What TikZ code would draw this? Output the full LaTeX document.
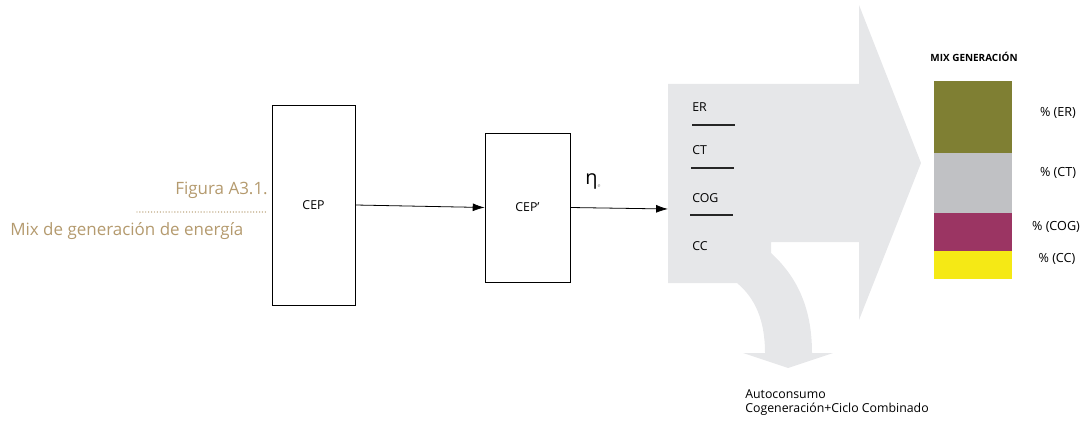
\documentclass[tikz,border=0pt]{standalone}
\usepackage{fontspec}
\setsansfont{Open Sans}
\usetikzlibrary{arrows.meta}
\definecolor{flowgray}{HTML}{E6E7E9}
\definecolor{captan}{HTML}{B49A6E}
\definecolor{mixolive}{HTML}{7F7F33}
\definecolor{mixgray}{HTML}{C0C1C4}
\definecolor{mixplum}{HTML}{9B3563}
\definecolor{mixyellow}{HTML}{F5E915}
\tikzset{
  x=0.0265cm, y=-0.0265cm,
  unitbox/.style={draw=black, line width=0.6pt, fill=white, inner sep=0pt, font=\sffamily\fontsize{9.3}{11}\selectfont},
  flowline/.style={line width=0.6pt, -{Latex[length=9pt, width=6pt]}},
  rowlabel/.style={anchor=west, inner sep=0pt, font=\sffamily\fontsize{9.3}{11}\selectfont},
  rowrule/.style={line width=0.9pt, draw=black!85},
  pctlabel/.style={inner sep=0pt, font=\sffamily\fontsize{9.5}{11}\selectfont},
  caption/.style={text=captan, inner sep=0pt, font=\sffamily\fontsize{12.8}{15}\selectfont},
}

\begin{document}
\begin{tikzpicture}
\useasboundingbox (0,0) rectangle (1081,423);
% caption
\node[caption, anchor=east] (figno) at (268,190) {Figura A3.1.};
\draw[captan, line width=1.1pt, line cap=round, dash pattern=on 0pt off 2.2pt] (137,212) -- (268,212);
\node[caption, anchor=west] (figtitle) at (10,231) {Mix de generación de energía};
% big flow arrow
\fill[flowgray] (668,84) -- (859,84) -- (859,5) -- (921,163) -- (859,320) -- (859,242)
  -- (771,242) -- (771,253) .. controls (795,275) and (812,305) .. (812,353)
  -- (833,353) -- (788,368) -- (743,353) -- (765,353)
  .. controls (765,320) and (755,298) .. (737,283) -- (668,283) -- cycle;
\coordinate (flowin) at (668,209);
% units
\node[unitbox, minimum width=2.2cm, minimum height=5.3cm] (cep) at (313.5,205) {CEP};
\node[unitbox, minimum width=2.25cm, minimum height=3.95cm] (cepp) at (527.5,207.5) {CEP’};
\draw[flowline] (cep.east) -- (cepp.west);
\draw[flowline] (cepp.east) -- (flowin);
\node[inner sep=0pt, font=\sffamily\fontsize{15}{17}\selectfont] (eta) at (593,181) {η\raisebox{-0.3ex}{\textcolor{black!40}{\fontsize{4}{4}\selectfont e}}};
% rows inside the arrow
\node[rowlabel] (er) at (692,107) {ER};
\draw[rowrule] (692,125) -- (735,125);
\node[rowlabel] (ct) at (692,150) {CT};
\draw[rowrule] (691,168) -- (734,168);
\node[rowlabel] (cog) at (692,198) {COG};
\draw[rowrule] (690,215) -- (733,215);
\node[rowlabel] (cc) at (692,246) {CC};
\node[rowlabel, align=left, font=\sffamily\fontsize{9.3}{10.5}\selectfont] (auto) at (745,403) {Autoconsumo\\Cogeneración+Ciclo Combinado};
% generation mix
\node[inner sep=0pt, font=\sffamily\bfseries\fontsize{7.5}{9}\selectfont] (mixtitle) at (974,57) {MIX GENERACIÓN};
\fill[mixolive] (934,81) rectangle (1012,153);
\fill[mixgray] (934,153) rectangle (1012,213);
\fill[mixplum] (934,213) rectangle (1012,251);
\fill[mixyellow] (934,251) rectangle (1012,279);
\node[pctlabel] (per) at (1058,113) {\% (ER)};
\node[pctlabel] (pct) at (1058,173) {\% (CT)};
\node[pctlabel] (pcog) at (1056,227) {\% (COG)};
\node[pctlabel] (pcc) at (1057,259) {\% (CC)};
\end{tikzpicture}
\end{document}
